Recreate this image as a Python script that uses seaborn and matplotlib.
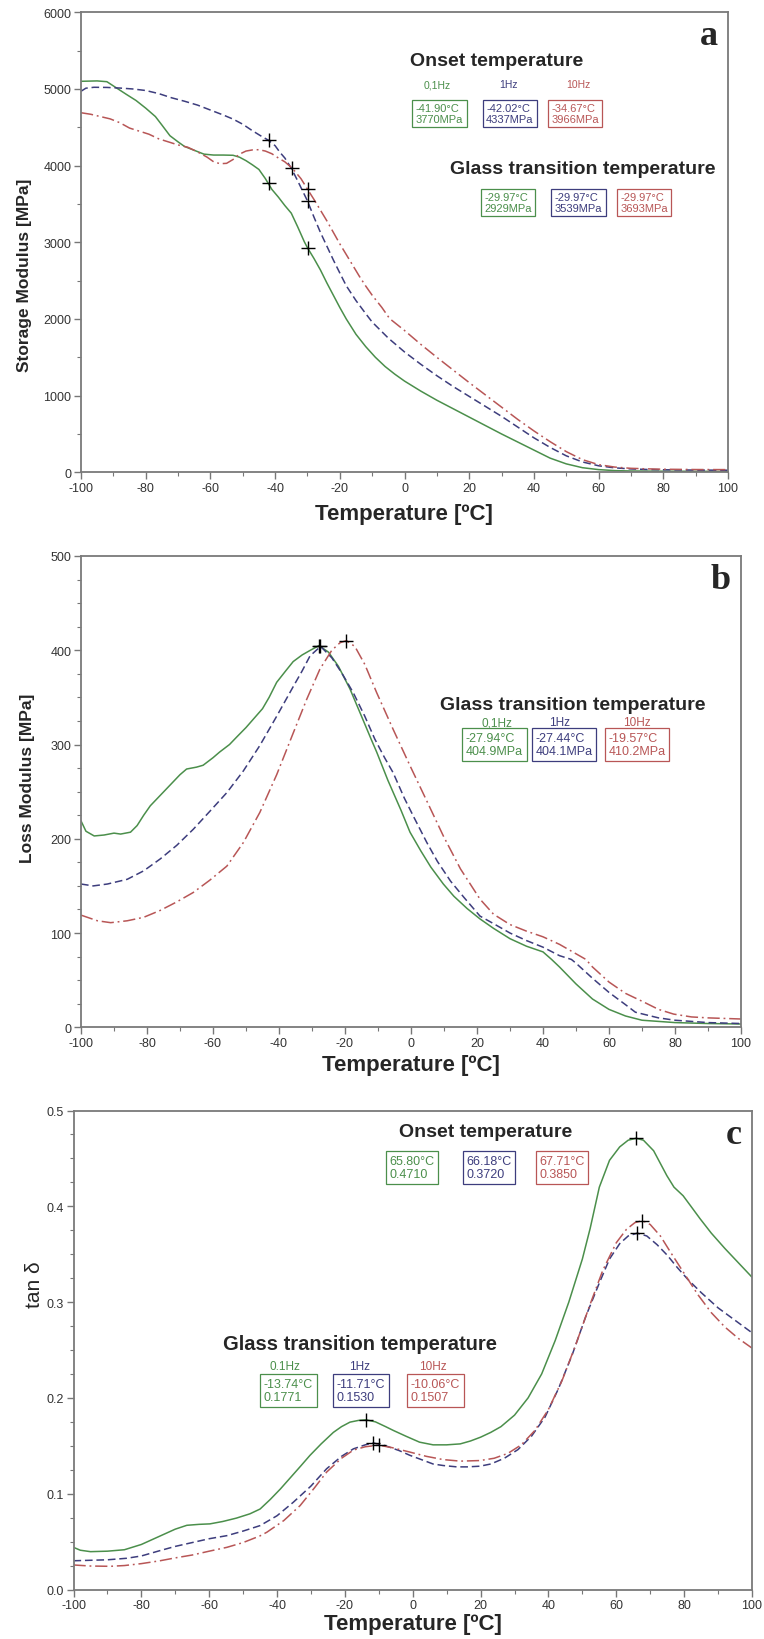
import matplotlib
matplotlib.use("Agg")
import matplotlib.pyplot as plt
import seaborn as sns
from matplotlib.ticker import MultipleLocator

sns.set_style("white")
plt.rcParams["font.family"] = ["Liberation Sans", "DejaVu Sans"]
plt.rcParams["axes.unicode_minus"] = False

GREEN = "#4b8f4b"
BLUE = "#3d3d7d"
RED = "#b85656"
COLORS = [GREEN, BLUE, RED]

# ---- panel a: storage modulus ----
a_green_t = [-100, -95, -92, -90, -86, -83, -80, -77, -75, -72.5, -70, -68, -65, -62, -59, -56, -53, -51, -49, -47,
             -45, -43, -41, -39, -37, -35, -33, -31, -30, -28, -26, -24, -22, -20, -18, -15, -12, -9, -6, -3,
             0, 5, 10, 15, 20, 25, 30, 35, 40, 45, 50, 55, 60, 65, 70, 80, 90, 100]
a_green = [5100, 5105, 5095, 5040, 4930, 4850, 4750, 4640, 4530, 4390, 4310, 4250, 4200, 4150, 4138, 4138, 4135, 4110, 4065, 4010,
           3950, 3830, 3690, 3590, 3480, 3380, 3200, 3010, 2929, 2790, 2640, 2470, 2310, 2150, 2000, 1800, 1640, 1500, 1380, 1280,
           1190, 1060, 940, 830, 720, 610, 500, 395, 290, 185, 110, 60, 35, 22, 17, 14, 13, 12]
a_blue_t = [-100, -98.5, -96, -92, -88, -84, -80, -76, -72, -68, -64, -60, -56, -53, -50, -47, -44.5, -42, -40, -38.5,
            -37, -35, -33, -30, -28, -26, -24, -22, -20, -18, -15, -12, -10, -5, 0, 5, 10, 15, 20, 25,
            30, 35, 40, 45, 50, 55, 60, 65, 70, 75, 80, 90, 100]
a_blue = [4970, 5010, 5022, 5020, 5012, 5000, 4980, 4940, 4885, 4840, 4790, 4725, 4660, 4607, 4540, 4455, 4390, 4330, 4260, 4173,
          4100, 3967, 3800, 3540, 3330, 3130, 2950, 2770, 2600, 2433, 2240, 2070, 1960, 1750, 1570, 1410, 1260, 1120, 990, 860,
          730, 590, 450, 325, 215, 135, 85, 58, 44, 37, 33, 29, 27]
a_red_t = [-100, -97, -94, -91, -88, -85, -82, -79, -76, -73, -70, -67, -64, -61, -59, -57, -55, -53, -51, -49,
           -47, -45, -43, -41, -39, -37, -34.67, -32, -30, -28, -26, -24, -22, -20, -18, -16, -14, -12, -10, -7,
           -4.6, 0, 5, 10, 15, 20, 25, 30, 35, 40, 45, 50, 55, 60, 65, 70, 75, 80, 90, 100]
a_red = [4690, 4670, 4640, 4610, 4560, 4490, 4450, 4410, 4350, 4310, 4270, 4240, 4180, 4110, 4050, 4025, 4030, 4080, 4150, 4190,
         4205, 4208, 4190, 4155, 4100, 4050, 3966, 3830, 3693, 3560, 3420, 3280, 3130, 2980, 2840, 2700, 2560, 2430, 2310, 2150,
         2005, 1850, 1670, 1500, 1335, 1170, 1010, 850, 690, 540, 400, 270, 165, 100, 68, 52, 45, 40, 36, 35]
a_onset_t = [-41.90, -42.02, -34.67]
a_onset_v = [3770, 4337, 3966]
a_tg_t = [-29.97, -29.97, -29.97]
a_tg_v = [2929, 3539, 3693]

# ---- panel b: loss modulus ----
b_green_t = [-100, -98.5, -96, -93, -90, -88, -85, -83, -81, -79, -76, -73, -70, -68, -65, -63, -60, -58, -55, -52.8,
             -50, -47.5, -45, -43, -40.7, -38, -35.7, -33, -30.5, -27.9, -25, -22, -18.5, -15, -12, -10.4, -7, -3, -0.3, 3,
             6, 9.8, 13, 17, 20.9, 25, 30, 35, 40, 42.6, 45, 50, 55, 60, 65, 70, 80, 90, 100]
b_green = [219, 208, 203, 204, 206, 205, 207, 214, 225, 235, 246, 257, 268, 274, 276, 278, 286, 292, 300, 308,
           318, 328, 338, 350, 366, 378, 388, 395, 400, 404.9, 398, 383, 359, 330, 305, 292, 262, 230, 207, 187,
           170, 152, 139, 126, 115, 105, 94, 86, 80, 72, 64, 46, 30, 19, 12, 7.5, 5, 4, 3.5]
b_blue_t = [-100, -96.3, -92, -86, -81, -76, -71, -66, -61, -55.8, -50.8, -45.8, -40.7, -35.6, -33, -30.6, -27.4, -24, -21, -17.5,
            -14, -11, -8, -5.4, -2, 1, 4.8, 8, 12, 16, 20.9, 25, 30, 35, 40, 45, 48.6, 50, 55, 60,
            65, 68, 75, 80, 90, 100]
b_blue = [152, 150, 152, 157, 166, 178.6, 193, 210, 229, 249, 272, 299, 330, 362, 378, 394, 404.1, 392, 376, 355,
          330, 306, 286, 270, 243, 222, 196, 176, 155, 138, 118, 110, 100, 92, 85, 76, 72, 68, 52, 37,
          24, 16, 10, 7.5, 5, 4]
b_red_t = [-100, -95, -91, -86, -81, -76, -71, -66, -61, -55.8, -50.8, -45.8, -40.7, -35.6, -31.6, -27.6, -24, -21.5, -19.6, -17,
           -14, -10.4, -5.4, -0.3, 4.8, 9.8, 15, 20.9, 25, 30, 35, 40, 45, 50, 53, 55, 60, 65, 70.7, 75,
           79.6, 85, 90, 100]
b_red = [119, 113, 111, 113, 116.7, 124, 133, 143, 156, 171, 196, 228, 268, 313, 348, 380, 400, 408, 410.2, 404,
         385, 355, 316, 277.5, 240, 203, 168, 136, 120, 109, 102, 96, 88, 78, 72, 64, 48, 36, 26.5, 19,
         14, 11, 10, 8.8]
b_peak_t = [-27.94, -27.44, -19.57]
b_peak_v = [404.9, 404.1, 410.2]

# ---- panel c: tan delta ----
c_green_t = [-100, -98, -95, -90, -85, -80, -75, -70, -66.6, -63, -59.8, -56, -52, -48, -45, -42, -39, -36, -33, -30.3,
             -27, -23.4, -21, -18.5, -16, -13.74, -11, -8, -5.7, -2, 2, 6, 10, 14, 17, 20, 23, 26, 30, 34,
             38, 42, 46, 50, 52.3, 55, 58, 61, 63.5, 65.8, 68, 71, 74.9, 77, 79.7, 82, 84.7, 88, 92, 96, 100]
c_green = [0.044, 0.041, 0.0395, 0.040, 0.0415, 0.047, 0.055, 0.063, 0.067, 0.068, 0.0685, 0.071, 0.0745, 0.079, 0.084, 0.094, 0.105, 0.117, 0.129, 0.140,
           0.152, 0.164, 0.170, 0.1747, 0.1765, 0.1771, 0.175, 0.170, 0.166, 0.160, 0.1538, 0.151, 0.151, 0.152, 0.155, 0.159, 0.164, 0.170, 0.182, 0.200,
           0.225, 0.260, 0.300, 0.345, 0.377, 0.420, 0.448, 0.462, 0.469, 0.471, 0.469, 0.458, 0.432, 0.420, 0.411, 0.400, 0.387, 0.372, 0.356, 0.341, 0.326]
c_blue_t = [-100, -95, -90, -84.3, -80, -74.5, -70, -65, -60, -54.8, -50, -45, -40, -35.2, -30, -25.4, -21, -17.5, -14, -11.71,
            -8, -4, -0.8, 3, 6, 9, 13, 16, 19.8, 23, 27, 31, 35, 39, 43, 47, 51, 55, 58, 61,
            63.5, 66.18, 69, 72, 75, 78, 81, 85, 90, 95, 100]
c_blue = [0.030, 0.0305, 0.031, 0.0326, 0.035, 0.0406, 0.045, 0.049, 0.053, 0.0562, 0.061, 0.0667, 0.077, 0.0911, 0.108, 0.126, 0.139, 0.1468, 0.151, 0.153,
          0.150, 0.145, 0.140, 0.135, 0.131, 0.1294, 0.128, 0.128, 0.1287, 0.131, 0.137, 0.146, 0.160, 0.180, 0.210, 0.245, 0.285, 0.320, 0.345, 0.361,
          0.369, 0.372, 0.369, 0.360, 0.349, 0.336, 0.324, 0.310, 0.294, 0.281, 0.268]
c_red_t = [-100, -95, -89.2, -85, -80, -74.5, -70, -65, -60, -54.8, -50, -45, -43, -38, -33.2, -29, -25.4, -21, -17.5, -14,
           -10.06, -6, -0.8, 4, 9, 14, 19.8, 24, 28, 32, 36, 40, 44, 48, 52, 56, 60, 63, 65.5, 67.71,
           70, 73, 76, 80, 84, 88, 92, 96, 100]
c_red = [0.0256, 0.0245, 0.0242, 0.025, 0.027, 0.030, 0.033, 0.036, 0.040, 0.044, 0.049, 0.056, 0.0598, 0.072, 0.0876, 0.106, 0.1225, 0.137, 0.1455, 0.149,
         0.1507, 0.148, 0.1434, 0.139, 0.1356, 0.134, 0.1346, 0.137, 0.142, 0.151, 0.166, 0.188, 0.218, 0.255, 0.295, 0.333, 0.362, 0.376, 0.383, 0.385,
         0.381, 0.369, 0.352, 0.330, 0.308, 0.289, 0.274, 0.262, 0.252]
c_tg_t = [-13.74, -11.71, -10.06]
c_tg_v = [0.1771, 0.1530, 0.1507]
c_onset_t = [65.80, 66.18, 67.71]
c_onset_v = [0.4710, 0.3720, 0.3850]

freq_ab = ["0,1Hz", "1Hz", "10Hz"]
freq_c = ["0.1Hz", "1Hz", "10Hz"]

W, H = 764, 1640
fig = plt.figure(figsize=(W / 100, H / 100), dpi=100)


def rect(x0, y0, x1, y1):
    return [x0 / W, 1 - y1 / H, (x1 - x0) / W, (y1 - y0) / H]


def ftext(x, y, s, **kw):
    fig.text(x / W, 1 - y / H, s, **kw)


def style_axes(ax, ymax, ymaj, ymin, yfmt=None):
    ax.set_xlim(-100, 100)
    ax.set_ylim(0, ymax)
    ax.xaxis.set_major_locator(MultipleLocator(20))
    ax.xaxis.set_minor_locator(MultipleLocator(10))
    ax.yaxis.set_major_locator(MultipleLocator(ymaj))
    ax.yaxis.set_minor_locator(MultipleLocator(ymin))
    if yfmt:
        ax.yaxis.set_major_formatter(yfmt)
    for sp in ax.spines.values():
        sp.set_color("#7a7a7a")
        sp.set_linewidth(1.3)
    ax.tick_params(which="major", direction="out", length=5, width=1, color="#777777",
                   labelsize=9, labelcolor="#333333", pad=2, left=True, bottom=True)
    ax.tick_params(which="minor", direction="out", length=3, width=0.8, color="#777777",
                   left=True, bottom=True)
    ax.set_xlabel("")
    ax.set_ylabel("")


def draw_lines(ax, series):
    styles = ["-", (0, (5, 2.5)), (0, (8, 2.5, 1.2, 2.5))]
    for (t, v), c, ls in zip(series, COLORS, styles):
        sns.lineplot(x=t, y=v, ax=ax, color=c, linewidth=1.1, linestyle=ls,
                     sort=False, estimator=None)


def marks(ax, t, v):
    sns.scatterplot(x=t, y=v, ax=ax, marker="+", s=110, color="black", linewidth=1.0, zorder=5)


def boxes(xs, y, lines, fs):
    for x, s, c in zip(xs, lines, COLORS):
        ftext(x, y, s, ha="center", va="center", fontsize=fs, color=c, linespacing=1.15,
              multialignment="left",
              bbox=dict(boxstyle="square,pad=0.3", fc="white", ec=c, lw=0.9))


def freqs(xs, y, names, fs):
    for x, s, c in zip(xs, names, COLORS):
        ftext(x, y, s, ha="center", va="center", fontsize=fs, color=c)


# panel a
ax_a = fig.add_axes(rect(81, 13.3, 728, 473.3))
draw_lines(ax_a, [(a_green_t, a_green), (a_blue_t, a_blue), (a_red_t, a_red)])
marks(ax_a, a_onset_t + a_tg_t, a_onset_v + a_tg_v)
style_axes(ax_a, 6000, 1000, 500)
ax_a.text(0.985, 0.985, "a", transform=ax_a.transAxes, ha="right", va="top",
          fontsize=26, fontweight="bold", family="Liberation Serif")
ftext(25, 275, "Storage Modulus [MPa]", rotation=90, ha="center", va="center",
      fontsize=12.5, fontweight="bold")
ftext(404, 515, "Temperature [ºC]", ha="center", va="center", fontsize=16, fontweight="bold")
ftext(410, 62, "Onset temperature", ha="left", va="center", fontsize=14, fontweight="bold")
freqs([437, 508, 578], 85, freq_ab, 7.5)
boxes([439.5, 510, 575], 114.5, [f"{t:.2f}°C\n{v}MPa" for t, v in zip(a_onset_t, a_onset_v)], 8)
ftext(583, 170, "Glass transition temperature", ha="center", va="center", fontsize=14, fontweight="bold")
boxes([508, 578.5, 644], 203.5, [f"{t:.2f}°C\n{v}MPa" for t, v in zip(a_tg_t, a_tg_v)], 8)

# panel b
ax_b = fig.add_axes(rect(81, 557, 741, 1028.3))
draw_lines(ax_b, [(b_green_t, b_green), (b_blue_t, b_blue), (b_red_t, b_red)])
marks(ax_b, b_peak_t, b_peak_v)
style_axes(ax_b, 500, 100, 25)
ax_b.text(0.985, 0.985, "b", transform=ax_b.transAxes, ha="right", va="top",
          fontsize=26, fontweight="bold", family="Liberation Serif")
ftext(28, 778, "Loss Modulus [MPa]", rotation=90, ha="center", va="center",
      fontsize=12.5, fontweight="bold")
ftext(411, 1065, "Temperature [ºC]", ha="center", va="center", fontsize=16, fontweight="bold")
ftext(573, 705, "Glass transition temperature", ha="center", va="center", fontsize=14, fontweight="bold")
freqs([497, 560, 637], 723, freq_ab, 8.5)
boxes([494.5, 564, 637], 745.5, [f"{t:.2f}°C\n{v:.1f}MPa" for t, v in zip(b_peak_t, b_peak_v)], 9)

# panel c
ax_c = fig.add_axes(rect(73.5, 1111.5, 752, 1590.5))
draw_lines(ax_c, [(c_green_t, c_green), (c_blue_t, c_blue), (c_red_t, c_red)])
marks(ax_c, c_tg_t + c_onset_t, c_tg_v + c_onset_v)
style_axes(ax_c, 0.5, 0.1, 0.025, yfmt="{x:.1f}")
ax_c.text(0.985, 0.985, "c", transform=ax_c.transAxes, ha="right", va="top",
          fontsize=26, fontweight="bold", family="Liberation Serif")
ftext(35, 1285, "tan δ", rotation=90, ha="center", va="center", fontsize=15)
ftext(413, 1625, "Temperature [ºC]", ha="center", va="center", fontsize=16, fontweight="bold")
ftext(486, 1133, "Onset temperature", ha="center", va="center", fontsize=14, fontweight="bold")
boxes([412, 489, 562], 1168.5, [f"{t:.2f}°C\n{v:.4f}" for t, v in zip(c_onset_t, c_onset_v)], 9)
ftext(360, 1345, "Glass transition temperature", ha="center", va="center", fontsize=14.5, fontweight="bold")
freqs([285, 360, 433], 1367, freq_c, 8.5)
boxes([288.5, 361, 435.5], 1391.5, [f"{t:.2f}°C\n{v:.4f}" for t, v in zip(c_tg_t, c_tg_v)], 9)

fig.savefig("out.png", dpi=100)
